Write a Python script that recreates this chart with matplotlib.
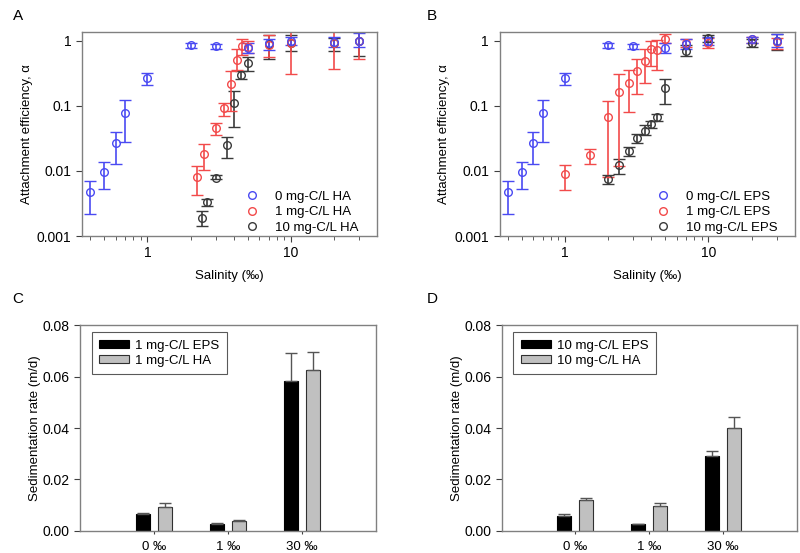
import matplotlib
matplotlib.use("Agg")
import matplotlib.pyplot as plt
import numpy as np
from matplotlib.lines import Line2D
from matplotlib.ticker import FixedLocator, NullFormatter, FixedFormatter

plt.rcParams['font.family'] = ['Liberation Sans', 'DejaVu Sans']

# ---------------- Data: panel A (HA) ----------------
sal_blue = [0.4, 0.5, 0.6, 0.7, 1, 2, 3, 5, 7, 10, 20, 30]
A_blue = [0.0047, 0.0096, 0.0265, 0.077, 0.265, 0.84, 0.81, 0.77, 0.9, 0.98, 0.95, 1.0]
A_blue_lo = [0.00216, 0.0053, 0.0129, 0.0277, 0.21, 0.78, 0.75, 0.65, 0.72, 0.85, 0.8, 0.8]
A_blue_hi = [0.007, 0.0139, 0.04, 0.122, 0.316, 0.9, 0.87, 0.9, 1.05, 1.15, 1.15, 1.3]

sal_A_red = [2.2, 2.5, 3.0, 3.4, 3.8, 4.2, 4.6, 5, 7, 10, 20, 30]
A_red = [0.0081, 0.0184, 0.046, 0.091, 0.214, 0.5, 0.82, 0.8, 0.85, 0.92, 0.9, 1.0]
A_red_lo = [0.0043, 0.0103, 0.0359, 0.069, 0.082, 0.35, 0.6, 0.65, 0.55, 0.31, 0.36, 0.52]
A_red_hi = [0.0119, 0.0262, 0.0537, 0.11, 0.34, 0.75, 1.04, 0.98, 1.2, 1.45, 1.45, 1.45]

sal_A_black = [2.4, 2.6, 3.0, 3.6, 4.0, 4.5, 5, 7, 10, 20, 30]
A_black = [0.0019, 0.0033, 0.0079, 0.0247, 0.11, 0.3, 0.455, 0.87, 0.9, 0.9, 1.0]
A_black_lo = [0.0014, 0.0029, 0.0074, 0.016, 0.047, 0.26, 0.34, 0.52, 0.7, 0.7, 0.57]
A_black_hi = [0.00245, 0.0037, 0.0085, 0.033, 0.17, 0.34, 0.56, 1.2, 1.2, 1.1, 1.4]

# ---------------- Data: panel B (EPS) ----------------
B_blue = [0.0047, 0.0096, 0.0265, 0.077, 0.265, 0.84, 0.81, 0.76, 0.88, 1.0, 1.05, 1.0]
B_blue_lo = [0.00216, 0.0053, 0.0129, 0.0277, 0.21, 0.78, 0.75, 0.65, 0.75, 0.85, 0.9, 0.8]
B_blue_hi = [0.007, 0.0139, 0.04, 0.122, 0.316, 0.9, 0.87, 0.9, 1.05, 1.15, 1.15, 1.25]

sal_B_red = [1, 1.5, 2, 2.4, 2.8, 3.2, 3.6, 4, 4.4, 5, 7, 10, 20, 30]
B_red = [0.0088, 0.0178, 0.066, 0.16, 0.22, 0.34, 0.49, 0.73, 0.72, 1.06, 0.92, 0.93, 1.05, 0.95]
B_red_lo = [0.005, 0.0128, 0.008, 0.012, 0.08, 0.15, 0.22, 0.41, 0.35, 0.9, 0.8, 0.78, 0.9, 0.75]
B_red_hi = [0.0123, 0.022, 0.12, 0.31, 0.35, 0.52, 0.73, 1.0, 1.03, 1.25, 1.05, 1.1, 1.15, 1.1]

sal_B_black = [2, 2.4, 2.8, 3.2, 3.6, 4, 4.4, 5, 7, 10, 20, 30]
B_black = [0.0075, 0.0125, 0.02, 0.032, 0.041, 0.052, 0.067, 0.186, 0.7, 1.1, 0.9, 0.97]
B_black_lo = [0.0063, 0.009, 0.017, 0.027, 0.035, 0.046, 0.058, 0.107, 0.57, 0.95, 0.8, 0.72]
B_black_hi = [0.0087, 0.015, 0.023, 0.037, 0.05, 0.058, 0.075, 0.26, 0.85, 1.2, 1.05, 1.25]

# ---------------- Data: panels C, D ----------------
bar_cats = ['0 \u2030', '1 \u2030', '30 \u2030']
C_eps = [0.0065, 0.0027, 0.0583]
C_eps_err = [0.0006, 0.0003, 0.0108]
C_ha = [0.0091, 0.0037, 0.0625]
C_ha_err = [0.0019, 0.0005, 0.0069]
D_eps = [0.0058, 0.0025, 0.0292]
D_eps_err = [0.0007, 0.0002, 0.0019]
D_ha = [0.0119, 0.0095, 0.040]
D_ha_err = [0.0008, 0.0012, 0.0043]

BLUE = '#4a4af2'
RED = '#f24a4a'
BLACK = '#3a3a3a'
SPINE = '#808080'

fig = plt.figure(figsize=(8, 5.53), dpi=100)


def style_axes(ax):
    for s in ax.spines.values():
        s.set_color(SPINE)
        s.set_linewidth(1.0)
    ax.tick_params(direction='out', colors='#404040', labelcolor='black', labelsize=10)


def scatter_panel(ax, series, labels, anchor):
    for (x, y, lo, hi, c) in series:
        y = np.array(y); lo = np.array(lo); hi = np.array(hi)
        ax.errorbar(x, y, yerr=[y - lo, hi - y], fmt='o', mfc='none', mec=c, ms=5.5,
                    mew=1.0, ecolor=c, elinewidth=1.2, capsize=4, capthick=1.2)
    ax.set_xscale('log')
    ax.set_yscale('log')
    ax.set_xlim(0.35, 40)
    ax.set_ylim(0.001, 1.35)
    ax.yaxis.set_major_locator(FixedLocator([0.001, 0.01, 0.1, 1]))
    ax.yaxis.set_major_formatter(FixedFormatter(['0.001', '0.01', '0.1', '1']))
    ax.yaxis.set_minor_locator(FixedLocator([]))
    ax.xaxis.set_major_locator(FixedLocator([1, 10]))
    ax.xaxis.set_major_formatter(FixedFormatter(['1', '10']))
    ax.xaxis.set_minor_locator(FixedLocator([0.4, 0.5, 0.6, 0.7, 0.8, 0.9, 2, 3, 4, 5, 6, 7, 8, 9, 20, 30]))
    ax.xaxis.set_minor_formatter(NullFormatter())
    style_axes(ax)
    ax.tick_params(which='major', length=4)
    ax.tick_params(which='minor', length=3, colors='#404040')
    ax.set_xlabel('Salinity (\u2030)', fontsize=9.5, labelpad=7)
    ax.set_ylabel('Attachment efficiency, \u03b1', fontsize=9.5, labelpad=3)
    handles = [Line2D([], [], ls='none', marker='o', mfc='none', mec=c, ms=5.5, mew=1.0)
               for c in (BLUE, RED, BLACK)]
    ax.legend(handles, labels, loc='lower right', frameon=False, fontsize=9.5,
              handletextpad=0.75, labelspacing=0.25, bbox_to_anchor=anchor, borderaxespad=0)


axA = fig.add_axes([0.1025, 0.5732, 0.369, 0.3689])
scatter_panel(axA, [(sal_A_black, A_black, A_black_lo, A_black_hi, BLACK),
                    (sal_A_red, A_red, A_red_lo, A_red_hi, RED),
                    (sal_blue, A_blue, A_blue_lo, A_blue_hi, BLUE)],
              ['0 mg-C/L HA', '1 mg-C/L HA', '10 mg-C/L HA'], (0.955, -0.015))

axB = fig.add_axes([0.6244, 0.5732, 0.369, 0.3689])
scatter_panel(axB, [(sal_B_black, B_black, B_black_lo, B_black_hi, BLACK),
                    (sal_B_red, B_red, B_red_lo, B_red_hi, RED),
                    (sal_blue, B_blue, B_blue_lo, B_blue_hi, BLUE)],
              ['0 mg-C/L EPS', '1 mg-C/L EPS', '10 mg-C/L EPS'], (0.96, -0.015))


def bar_panel(ax, eps, eps_err, ha, ha_err, labels):
    x = np.arange(1, len(bar_cats) + 1)
    w = 0.19
    ax.bar(x - 0.15, eps, w, color='black', edgecolor='black', linewidth=0.8,
           yerr=[np.zeros(len(eps)), eps_err], ecolor='#555555',
           error_kw=dict(elinewidth=1.0, capsize=4, capthick=1.0), label=labels[0])
    ax.bar(x + 0.15, ha, w, color='#c0c0c0', edgecolor='#303030', linewidth=0.8,
           yerr=[np.zeros(len(ha)), ha_err], ecolor='#555555',
           error_kw=dict(elinewidth=1.0, capsize=4, capthick=1.0), label=labels[1])
    ax.set_xlim(0, 4)
    ax.set_ylim(0, 0.08)
    ax.set_xticks(x)
    ax.set_xticklabels(bar_cats)
    ax.set_yticks([0, 0.02, 0.04, 0.06, 0.08])
    ax.set_yticklabels(['0.00', '0.02', '0.04', '0.06', '0.08'])
    style_axes(ax)
    ax.tick_params(axis='x', length=2.5, pad=4.5, labelsize=9.5)
    ax.tick_params(axis='y', length=4)
    ax.set_ylabel('Sedimentation rate (m/d)', fontsize=9.5, labelpad=1)
    leg = ax.legend(loc='upper left', fontsize=9.5, frameon=True, fancybox=False,
                    handlelength=2.3, handleheight=0.55, handletextpad=0.45,
                    borderpad=0.55, labelspacing=0.25,
                    bbox_to_anchor=(0.04, 0.965), borderaxespad=0)
    leg.get_frame().set_edgecolor('#303030')
    leg.get_frame().set_linewidth(0.8)


axC = fig.add_axes([0.1, 0.04, 0.37, 0.372])
bar_panel(axC, C_eps, C_eps_err, C_ha, C_ha_err, ['1 mg-C/L EPS', '1 mg-C/L HA'])

axD = fig.add_axes([0.627, 0.04, 0.369, 0.372])
bar_panel(axD, D_eps, D_eps_err, D_ha, D_ha_err, ['10 mg-C/L EPS', '10 mg-C/L HA'])

for lab, (px, py) in zip('ABCD', [(18, 16), (432, 16), (18, 299), (432, 299)]):
    fig.text(px / 800, 1 - py / 553, lab, fontsize=11, ha='center', va='center')

fig.savefig('out.png', dpi=100)
